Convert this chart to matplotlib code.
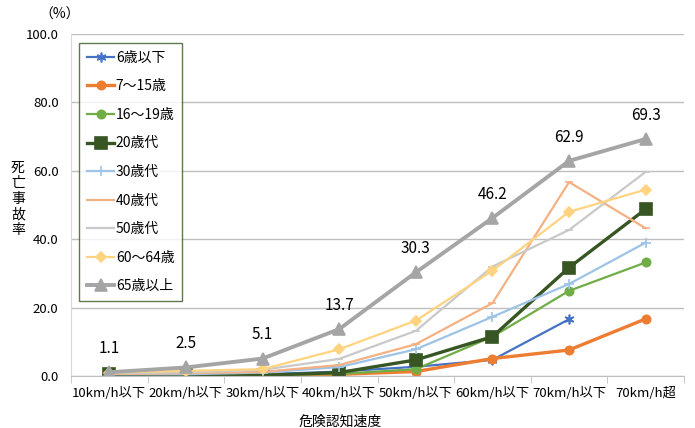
import numpy as np
import matplotlib
matplotlib.use("Agg")
import matplotlib.pyplot as plt

plt.rcParams["font.family"] = ["Noto Sans CJK JP", "DejaVu Sans"]

# 危険認知速度ごとの死亡事故率 (%)
vitesses = ["10km/h以下", "20km/h以下", "30km/h以下", "40km/h以下",
            "50km/h以下", "60km/h以下", "70km/h以下", "70km/h超"]

age_6 = [1.0, 0.8, 0.5, 1.3, 2.7, 4.7, 16.6, np.nan]
age_7_15 = [0.2, 0.2, 0.3, 0.5, 1.3, 5.1, 7.6, 16.7]
age_16_19 = [0.8, 0.3, 0.3, 0.6, 2.0, 11.5, 24.9, 33.2]
age_20 = [0.5, 0.2, 0.2, 1.0, 4.7, 11.5, 31.7, 48.8]
age_30 = [0.5, 0.5, 1.0, 2.6, 7.8, 17.3, 26.9, 39.0]
age_40 = [0.6, 0.8, 1.2, 3.2, 9.3, 21.3, 56.7, 43.2]
age_50 = [0.8, 1.0, 1.8, 5.0, 13.2, 32.0, 42.7, 59.7]
age_60_64 = [1.0, 1.5, 2.0, 7.8, 16.2, 30.8, 48.0, 54.5]
age_65 = [1.1, 2.5, 5.1, 13.7, 30.3, 46.2, 62.9, 69.3]

# (label, valeurs, couleur, marqueur, taille marqueur, epaisseur)
series = [
    ("6歳以下", age_6, "#4472C4", (6, 2, 0), 7, 1.6),
    ("7～15歳", age_7_15, "#ED7D31", "o", 6, 2.4),
    ("16～19歳", age_16_19, "#70AD47", "o", 6, 1.6),
    ("20歳代", age_20, "#375623", "s", 8, 2.4),
    ("30歳代", age_30, "#9DC3E6", "+", 7, 1.6),
    ("40歳代", age_40, "#F4B183", "_", 6, 1.6),
    ("50歳代", age_50, "#C9C9C9", "_", 6, 1.6),
    ("60～64歳", age_60_64, "#FFD37F", "D", 5, 1.6),
    ("65歳以上", age_65, "#A5A5A5", "^", 8, 2.8),
]

fig = plt.figure(figsize=(6.95, 4.28), dpi=100)
ax = fig.add_axes([71 / 695, 1 - 376 / 428, 613 / 695, 342 / 428])

x = np.arange(len(vitesses))
for label, vals, col, mk, ms, lw in series:
    ax.plot(x, vals, color=col, marker=mk, markersize=ms, lw=lw,
            markeredgecolor=col, markeredgewidth=1.2, label=label)

# etiquettes de la serie 65歳以上
for xi, v in zip(x, age_65):
    ax.annotate(f"{v:.1f}", (xi, v), xytext=(0, 11), textcoords="offset points",
                ha="center", va="bottom", fontsize=11)

ax.set_xlim(-0.5, len(vitesses) - 0.5)
ax.set_ylim(0, 100)
ax.set_yticks(np.arange(0, 101, 20))
ax.set_yticklabels([f"{v:.1f}" for v in np.arange(0, 101, 20)], fontsize=9.5)
ax.set_xticks(x)
ax.set_xticklabels(vitesses, fontsize=9.5)
ax.set_xticks(np.arange(-0.5, len(vitesses), 1), minor=True)
ax.tick_params(axis="x", which="major", length=0, pad=8)
ax.tick_params(axis="x", which="minor", length=5, color="#BFBFBF")
ax.tick_params(axis="y", length=0, pad=9)

ax.grid(axis="y", color="#BFBFBF", lw=1)
ax.set_axisbelow(True)
for s in ["top", "right"]:
    ax.spines[s].set_visible(False)
ax.spines["left"].set_color("#D9D9D9")
ax.spines["bottom"].set_color("#BFBFBF")

fig.text(18 / 695, 1 - 199 / 428, "死\n亡\n事\n故\n率", ha="center", va="center",
         fontsize=10, linespacing=1.15)
fig.text(60 / 695, 1 - 15 / 428, "（%）", ha="center", va="center", fontsize=10)
fig.text(340 / 695, 1 - 422 / 428, "危険認知速度", ha="center", va="center", fontsize=10)

leg = ax.legend(loc="upper left", bbox_to_anchor=(79 / 695, 1 - 43 / 428),
                bbox_transform=fig.transFigure, fontsize=10, frameon=True,
                fancybox=False, labelspacing=1.05, handlelength=2.0,
                handletextpad=0.1, borderpad=0.55, borderaxespad=0)
leg.get_frame().set_edgecolor("#375623")
leg.get_frame().set_linewidth(1)

fig.savefig("out.png", dpi=100)
